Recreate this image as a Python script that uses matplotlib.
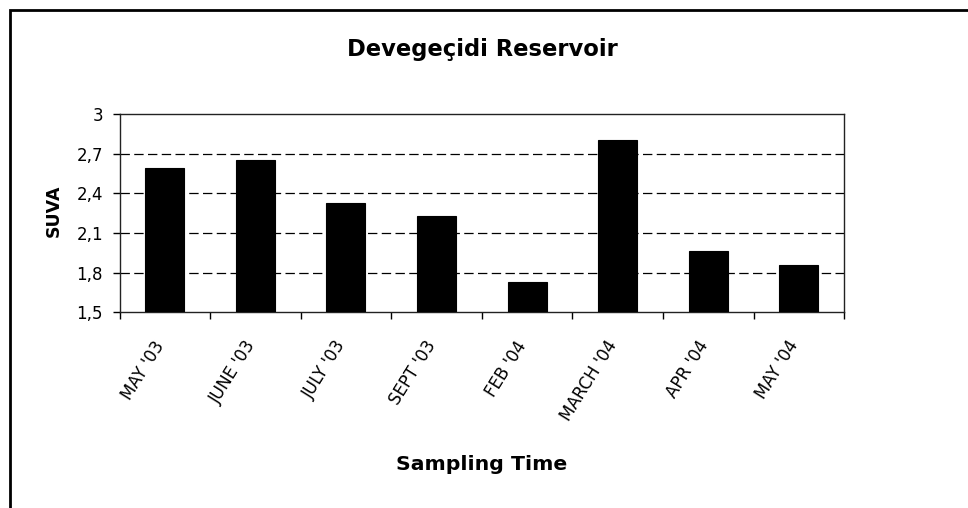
import matplotlib.pyplot as plt
from matplotlib.patches import Rectangle
from matplotlib.ticker import FuncFormatter

plt.rcParams['font.family'] = ['DejaVu Sans']

# SUVA values per sampling month
months = ["MAY '03", "JUNE '03", "JULY '03", "SEPT '03",
          "FEB '04", "MARCH '04", "APR '04", "MAY '04"]
suva = [2.59, 2.65, 2.33, 2.23, 1.73, 2.80, 1.96, 1.86]
yticks = [1.5, 1.8, 2.1, 2.4, 2.7, 3.0]

fig = plt.figure(figsize=(9.68, 5.08), dpi=100)
ax = fig.add_axes([0.1235, 0.3852, 0.7485, 0.3904])

x = range(len(months))
ax.bar(x, suva, width=0.43, color='black', edgecolor='black', linewidth=0.8,
       zorder=3)

ax.set_ylim(1.5, 3.0)
ax.set_xlim(-0.5, len(months) - 0.5)
ax.set_yticks(yticks)
ax.yaxis.set_major_formatter(FuncFormatter(
    lambda v, p: ('%g' % round(v, 1)).replace('.', ',')))

# category labels under bars, tick marks between categories
ax.set_xticks([i + 0.5 for i in range(-1, len(months))])
ax.set_xticklabels([])
ax.set_xticks([i + 0.04 for i in x], minor=True)
ax.set_xticklabels(months, minor=True, rotation=58, ha='right', va='bottom',
                   rotation_mode='anchor', fontsize=12)
ax.tick_params(axis='x', which='minor', length=0, pad=25)
ax.tick_params(axis='x', which='major', length=5, width=1, direction='out')
ax.tick_params(axis='y', length=5, width=1, direction='out', labelsize=12,
               pad=7)

for g in [1.8, 2.1, 2.4, 2.7]:
    ax.axhline(g, color='black', linestyle=(0, (7.5, 3.5)), linewidth=0.9,
               zorder=1)

for s in ax.spines.values():
    s.set_linewidth(1)
    s.set_color('#222222')

ax.set_ylabel('SUVA', fontsize=12.5, fontweight='bold')
ax.yaxis.set_label_coords(-0.078, 0.51)
ax.set_xlabel('Sampling Time', fontsize=14.7, fontweight='bold')
ax.xaxis.set_label_coords(0.5, -0.72)
fig.text(0.498, 0.902, 'Devegeçidi Reservoir', ha='center', va='center',
         fontsize=16.3, fontweight='bold')

# chart frame
fig.patches.append(Rectangle((10 / 968, -0.1), 1.2, 1.1 - 10 / 508,
                             transform=fig.transFigure, fill=False,
                             edgecolor='black', linewidth=2, clip_on=False))

fig.savefig('out.png', dpi=100)
